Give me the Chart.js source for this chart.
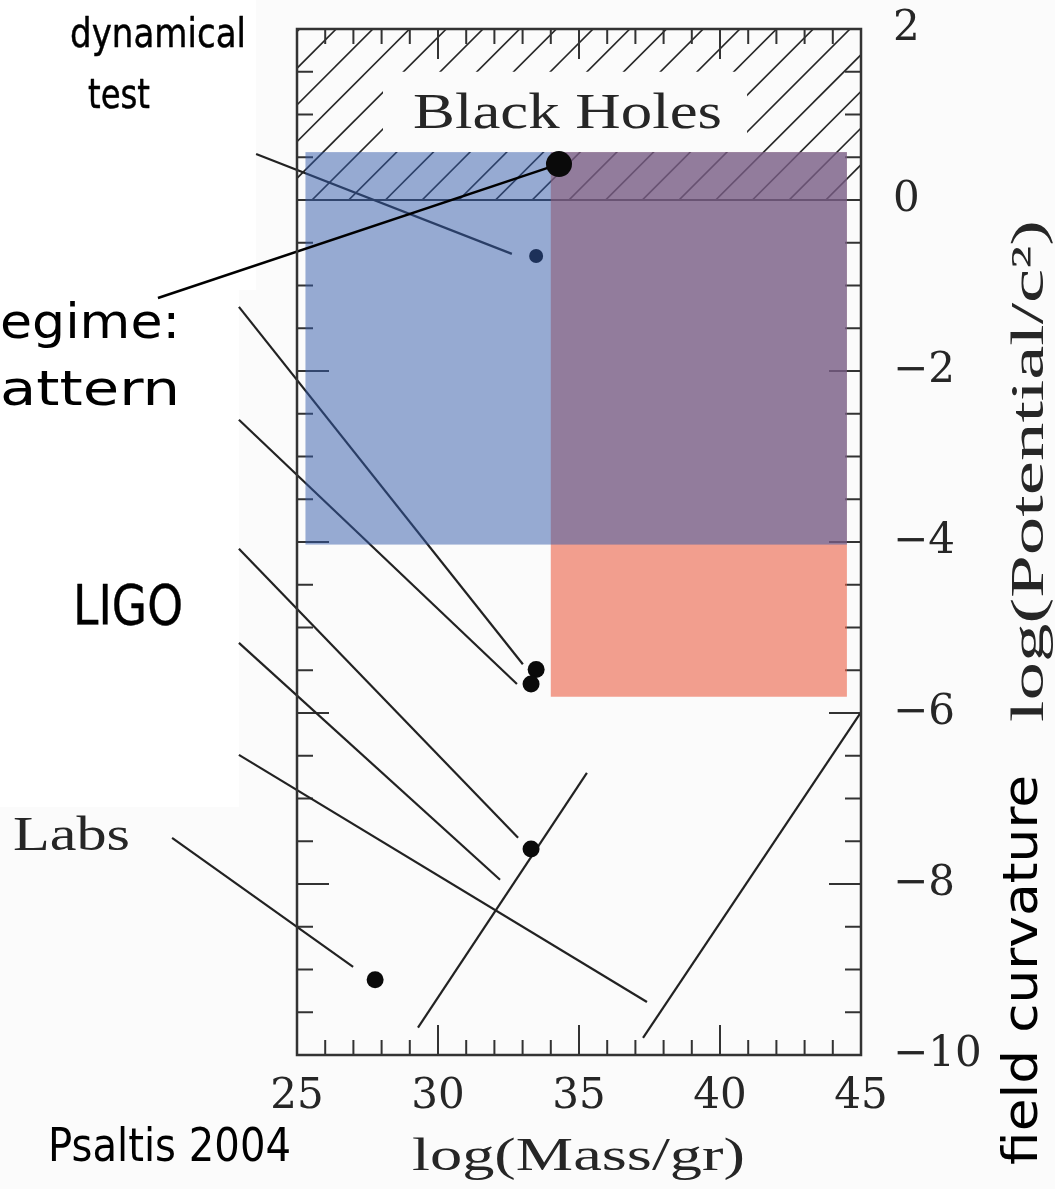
<!DOCTYPE html>
<html><head><meta charset="utf-8">
<script src="https://cdn.jsdelivr.net/npm/chart.js@4.4.1/dist/chart.umd.min.js"></script>
<style>html,body{margin:0;padding:0;background:#fbfbfb;}canvas{display:block;}</style>
</head><body>
<canvas id="c" width="1055" height="1189"></canvas>
<script>
// ---------------- data ----------------
const xTicks = [25, 30, 35, 40, 45];
const xTickLabels = ['25', '30', '35', '40', '45'];
const yTicks = [-10, -8, -6, -4, -2, 0, 2];
const yTickLabels = ['\u221210', '\u22128', '\u22126', '\u22124', '\u22122', '0', '2'];

// objects: log(Mass/gr), log(Potential/c^2)
const bhMass = [34.29], bhPot = [0.42];          // strong-field regime point
const dynMass = [33.48], dynPot = [-0.655];      // dynamical test point
const objMass = [33.48, 33.30, 33.30, 27.77];
const objPot = [-5.49, -5.66, -7.59, -9.12];

// annotation lines lying under the shaded regions
const underStartX = [23.55, 22.94, 22.94];
const underStartY = [0.538, -1.25, -2.57];
const underEndX = [32.62, 33.01, 32.80];
const underEndY = [-0.63, -5.43, -5.66];
// annotation lines lying above
const overStartX = [20.07, 22.94, 22.94, 22.94, 20.57, 29.29, 37.27];
const overStartY = [-1.146, -4.08, -5.18, -6.49, -7.46, -9.68, -9.80];
const overEndX = [34.29, 32.84, 32.20, 37.41, 26.99, 35.28, 44.96];
const overEndY = [0.42, -7.46, -7.95, -9.38, -8.97, -6.70, -6.01];

// shaded regions (salmon, blue)
const regionXMin = [34.0, 25.3];
const regionXMax = [44.5, 44.5];
const regionYMin = [-5.81, -4.03];
const regionYMax = [0.56, 0.56];
// black-hole (hatched) zone in log(Potential/c^2)
const bhZone = [0, 2];
const bhLabelBox = [28.05, 40.96, 0.56, 1.5];

// ---------------- chart ----------------
function seg(x1, y1, x2, y2) { return [{x: x1, y: y1}, {x: x2, y: y2}]; }
const datasets = [];
underStartX.forEach((_, i) => datasets.push({
  data: seg(underStartX[i], underStartY[i], underEndX[i], underEndY[i]),
  showLine: true, pointRadius: 0, borderColor: '#222', borderWidth: 2.2,
  clip: false, order: 2, layer: 'under'
}));
datasets.push({
  data: dynMass.map((m, i) => ({x: m, y: dynPot[i]})),
  pointRadius: 7, backgroundColor: '#080808', borderWidth: 0, order: 2, layer: 'under'
});
overStartX.forEach((_, i) => datasets.push({
  data: seg(overStartX[i], overStartY[i], overEndX[i], overEndY[i]),
  showLine: true, pointRadius: 0,
  borderColor: i === 0 ? '#000' : '#222', borderWidth: i === 0 ? 2.5 : 2.2,
  clip: false, order: 1, layer: 'over'
}));
datasets.push({
  data: objMass.map((m, i) => ({x: m, y: objPot[i]})),
  pointRadius: 8.5, backgroundColor: '#0a0a0a', borderWidth: 0, order: 0, layer: 'over'
});
datasets.push({
  data: bhMass.map((m, i) => ({x: m, y: bhPot[i]})),
  pointRadius: 13, backgroundColor: '#0a0a0a', borderWidth: 0, order: 0, layer: 'over', clip: false
});

let regionsDrawn = false;

function fitText(ctx, text, font, x, y, w, color, rot, bold) {
  ctx.save();
  ctx.font = font; ctx.fillStyle = color;
  ctx.textBaseline = 'alphabetic'; ctx.textAlign = 'left';
  const m = ctx.measureText(text).width;
  ctx.translate(x, y);
  if (rot) ctx.rotate(rot);
  ctx.scale(w / m, 1);
  ctx.fillText(text, 0, 0);
  if (bold) { ctx.strokeStyle = color; ctx.lineWidth = bold; ctx.lineJoin = 'round'; ctx.strokeText(text, 0, 0); }
  ctx.restore();
}

function drawRegions(chart) {
  const ctx = chart.ctx, xs = chart.scales.x, ys = chart.scales.y;
  const fills = ['rgba(237,97,70,0.6)', 'rgba(50,90,170,0.5)'];
  ctx.save();
  regionXMin.forEach((_, i) => {
    const x1 = xs.getPixelForValue(regionXMin[i]), x2 = xs.getPixelForValue(regionXMax[i]);
    const y1 = ys.getPixelForValue(regionYMax[i]), y2 = ys.getPixelForValue(regionYMin[i]);
    ctx.fillStyle = fills[i];
    ctx.fillRect(x1, y1, x2 - x1, y2 - y1);
  });
  ctx.restore();
}

const deco = {
  id: 'deco',
  beforeDraw(chart) {
    const ctx = chart.ctx;
    ctx.save();
    ctx.fillStyle = '#fbfbfb'; ctx.fillRect(0, 0, chart.width, chart.height);
    ctx.fillStyle = '#ffffff';
    ctx.fillRect(0, 0, 256, 290);
    ctx.fillRect(0, 290, 239, 517);
    ctx.restore();
    regionsDrawn = false;
  },
  beforeDatasetsDraw(chart) {
    const ctx = chart.ctx, xs = chart.scales.x, ys = chart.scales.y;
    const L = xs.getPixelForValue(25), R = xs.getPixelForValue(45);
    const T = ys.getPixelForValue(bhZone[1]), B = ys.getPixelForValue(bhZone[0]);
    // hatching of the black-hole zone
    const bx1 = xs.getPixelForValue(bhLabelBox[0]), bx2 = xs.getPixelForValue(bhLabelBox[1]);
    const by1 = ys.getPixelForValue(bhLabelBox[3]), by2 = ys.getPixelForValue(bhLabelBox[2]);
    ctx.save();
    ctx.beginPath();
    ctx.rect(L, T, R - L, B - T);
    ctx.rect(bx1, by1, bx2 - bx1, by2 - by1);
    ctx.clip('evenodd');
    ctx.strokeStyle = '#262626'; ctx.lineWidth = 1.7;
    const h = B - T, step = 36.7;
    for (let c = L + 15 - 12 * step; c < R + step; c += step) {
      ctx.beginPath(); ctx.moveTo(c, B); ctx.lineTo(c + h, T); ctx.stroke();
    }
    ctx.restore();
    // zero line
    ctx.save();
    ctx.strokeStyle = '#303030'; ctx.lineWidth = 2;
    ctx.beginPath(); ctx.moveTo(L, B); ctx.lineTo(R, B); ctx.stroke();
    // inner ticks
    const Tp = chart.chartArea.top, Bp = chart.chartArea.bottom;
    ctx.lineWidth = 2; ctx.strokeStyle = '#333';
    for (let v = 26; v < 45; v++) {
      const len = v % 5 === 0 ? 30 : 15, p = xs.getPixelForValue(v);
      ctx.beginPath(); ctx.moveTo(p, Bp); ctx.lineTo(p, Bp - len); ctx.stroke();
      ctx.beginPath(); ctx.moveTo(p, Tp); ctx.lineTo(p, Tp + len); ctx.stroke();
    }
    for (let k = -19; k < 4; k++) {
      const v = k / 2, len = (k % 4 === 0) ? 32 : 16, p = ys.getPixelForValue(v);
      ctx.beginPath(); ctx.moveTo(L, p); ctx.lineTo(L + len, p); ctx.stroke();
      ctx.beginPath(); ctx.moveTo(R, p); ctx.lineTo(R - len, p); ctx.stroke();
    }
    ctx.restore();
  },
  beforeDatasetDraw(chart, args) {
    if (!regionsDrawn && chart.data.datasets[args.index].layer === 'over') {
      drawRegions(chart); regionsDrawn = true;
    }
  },
  afterDraw(chart) {
    const ctx = chart.ctx, a = chart.chartArea;
    ctx.save();
    ctx.strokeStyle = '#333'; ctx.lineWidth = 2.5;
    ctx.strokeRect(a.left, a.top, a.right - a.left, a.bottom - a.top);
    ctx.restore();
    const serif = '"Liberation Serif", serif', comic = '"DejaVu Sans", sans-serif';
    const dark = '#262626';
    fitText(ctx, 'Black Holes', '50px ' + serif, 413, 128, 309, dark);
    fitText(ctx, 'log(Mass/gr)', '46px ' + serif, 412, 1170, 333, dark);
    fitText(ctx, 'Labs', '48px ' + serif, 13, 850, 117, dark);
    fitText(ctx, 'log(Potential/c\u00B2)', '46px ' + serif, 1043, 722, 502, dark, -Math.PI / 2);
    fitText(ctx, 'field curvature', '48px ' + comic, 1037, 1165, 390, '#000', -Math.PI / 2);
    fitText(ctx, 'dynamical', '41px ' + comic, 70, 47, 176, '#000', 0, 0.5);
    fitText(ctx, 'test', '41px ' + comic, 88, 108, 62, '#000', 0, 0.5);
    fitText(ctx, 'egime:', '48px ' + comic, 0, 338, 180, '#000');
    fitText(ctx, 'attern', '48px ' + comic, 0, 405, 180, '#000');
    fitText(ctx, 'LIGO', '56px ' + comic, 73, 624, 110, '#000', 0, 0.4);
    fitText(ctx, 'Psaltis 2004', '46px ' + comic, 48, 1161, 243, '#000');
  }
};

new Chart(document.getElementById('c'), {
  type: 'scatter',
  data: { datasets },
  options: {
    responsive: false, animation: false, events: [],
    layout: { padding: { left: 297, top: 29, right: 0, bottom: 0 } },
    plugins: { legend: { display: false }, tooltip: { enabled: false } },
    scales: {
      x: {
        type: 'linear', position: 'bottom', min: 25, max: 45,
        afterBuildTicks: s => { s.ticks = xTicks.map(v => ({ value: v })); },
        afterFit: s => { s.height = 134; s.paddingLeft = 0; s.paddingRight = 0; s.paddingTop = 0; s.paddingBottom = 0; },
        grid: { display: false, drawTicks: false },
        border: { display: false },
        ticks: {
          autoSkip: false, maxRotation: 0, padding: 17, color: '#262626',
          font: { family: '"DejaVu Serif", serif', size: 42 },
          callback: v => xTickLabels[xTicks.indexOf(v)]
        }
      },
      y: {
        type: 'linear', position: 'right', min: -10, max: 2,
        afterBuildTicks: s => { s.ticks = yTicks.map(v => ({ value: v })); },
        afterFit: s => { s.width = 194; s.paddingTop = 0; s.paddingBottom = 0; s.paddingLeft = 0; s.paddingRight = 0; },
        grid: { display: false, drawTicks: false },
        border: { display: false },
        ticks: {
          autoSkip: false, padding: 32, color: '#262626',
          font: { family: '"DejaVu Serif", serif', size: 42 },
          callback: v => yTickLabels[yTicks.indexOf(v)]
        }
      }
    }
  },
  plugins: [deco]
});
</script>
</body></html>
